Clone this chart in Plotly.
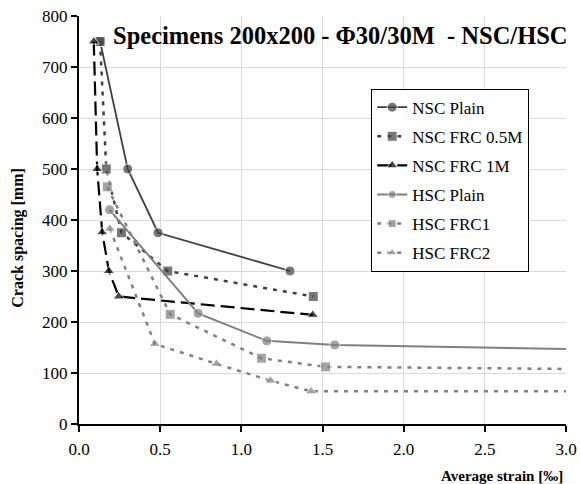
import plotly.graph_objects as go

names = ["NSC Plain", "NSC FRC 0.5M", "NSC FRC 1M", "HSC Plain", "HSC FRC1", "HSC FRC2"]

nsc_plain_x = [0.13, 0.30, 0.487, 1.30]
nsc_plain_y = [750, 500, 375, 300]

nsc_frc05_x = [0.13, 0.168, 0.262, 0.547, 1.443]
nsc_frc05_y = [750, 500, 375, 300, 250]

nsc_frc1_x = [0.091, 0.112, 0.143, 0.184, 0.245, 1.44]
nsc_frc1_y = [750, 500, 376, 300, 250, 214]

hsc_plain_x = [0.188, 0.734, 1.157, 1.576, 3.0]
hsc_plain_y = [420, 217, 163, 155, 147]

hsc_frc1_x = [0.174, 0.562, 1.124, 1.519, 3.0]
hsc_frc1_y = [465, 215, 129, 112, 108]

hsc_frc2_x = [0.19, 0.467, 0.847, 1.18, 1.43, 3.0]
hsc_frc2_y = [383, 157, 118, 85, 64, 64]

dark = "#404040"
gray = "#808080"

series = [
    (nsc_plain_x, nsc_plain_y, dark, "solid", "circle", 10, 1.8, False),
    (nsc_frc05_x, nsc_frc05_y, dark, "4px,6px", "square", 10, 2.5, False),
    (nsc_frc1_x, nsc_frc1_y, "#000000", "14px,6px", "triangle-up", 10, 2.2, False),
    (hsc_plain_x, hsc_plain_y, gray, "solid", "circle", 10, 2.0, True),
    (hsc_frc1_x, hsc_frc1_y, gray, "4px,6px", "square", 10, 2.5, True),
    (hsc_frc2_x, hsc_frc2_y, gray, "4px,6px", "triangle-up", 10, 2.5, True),
]

fig = go.Figure()
for i, (xs, ys, col, dash, sym, ms, lw, tail) in enumerate(series):
    sizes = [ms] * len(xs)
    if tail:
        sizes[-1] = 0
    fig.add_trace(go.Scatter(
        x=xs, y=ys, name=names[i], mode="lines+markers",
        line=dict(color=col, dash=dash, width=lw),
        marker=dict(symbol=sym, size=sizes, color=col),
        legendgroup=f"g{i}",
    ))

ff = "Liberation Serif"

fig.update_layout(
    width=580, height=484,
    margin=dict(l=79, r=14, t=16, b=60),
    plot_bgcolor="white", paper_bgcolor="white",
    font=dict(family=ff, size=16, color="black"),
    showlegend=True,
    legend=dict(
        x=0.60, y=0.822, xanchor="left", yanchor="top",
        bgcolor="white", bordercolor="black", borderwidth=1,
        font=dict(family=ff, size=17, color="black"),
        tracegroupgap=4,
    ),
    xaxis=dict(
        range=[0, 3.0], dtick=0.5, tickformat=".1f",
        showgrid=True, gridcolor="#d9d9d9", gridwidth=1,
        showline=True, linecolor="black", linewidth=2,
        ticks="outside", ticklen=6, tickwidth=2, tickcolor="black",
        zeroline=False, automargin=False, ticklabelstandoff=3,
        tickfont=dict(family=ff, size=17, color="black"),
    ),
    yaxis=dict(
        range=[0, 800], dtick=100,
        showgrid=True, gridcolor="#d9d9d9", gridwidth=1,
        showline=True, linecolor="black", linewidth=2,
        ticks="outside", ticklen=6, tickwidth=2, tickcolor="black",
        zeroline=False, automargin=False,
        tickfont=dict(family=ff, size=17, color="black"),
    ),
    annotations=[
        dict(text="<b>Specimens 200x200 - Φ30/30M  - NSC/HSC</b>", xref="paper", yref="paper",
             x=0.536, y=0.952, xanchor="center", yanchor="middle", showarrow=False,
             font=dict(family=ff, size=24.5, color="black")),
        dict(text="<b>Average strain [‰]</b>", xref="paper", yref="paper",
             x=0.998, y=-0.127, xanchor="right", yanchor="middle", showarrow=False,
             font=dict(family=ff, size=15, color="black")),
        dict(text="<b>Crack spacing [mm]</b>", xref="paper", yref="paper",
             x=-0.127, y=0.457, xanchor="center", yanchor="middle", showarrow=False,
             textangle=-90, font=dict(family=ff, size=16, color="black")),
    ],
)

fig.write_html("out.html")
